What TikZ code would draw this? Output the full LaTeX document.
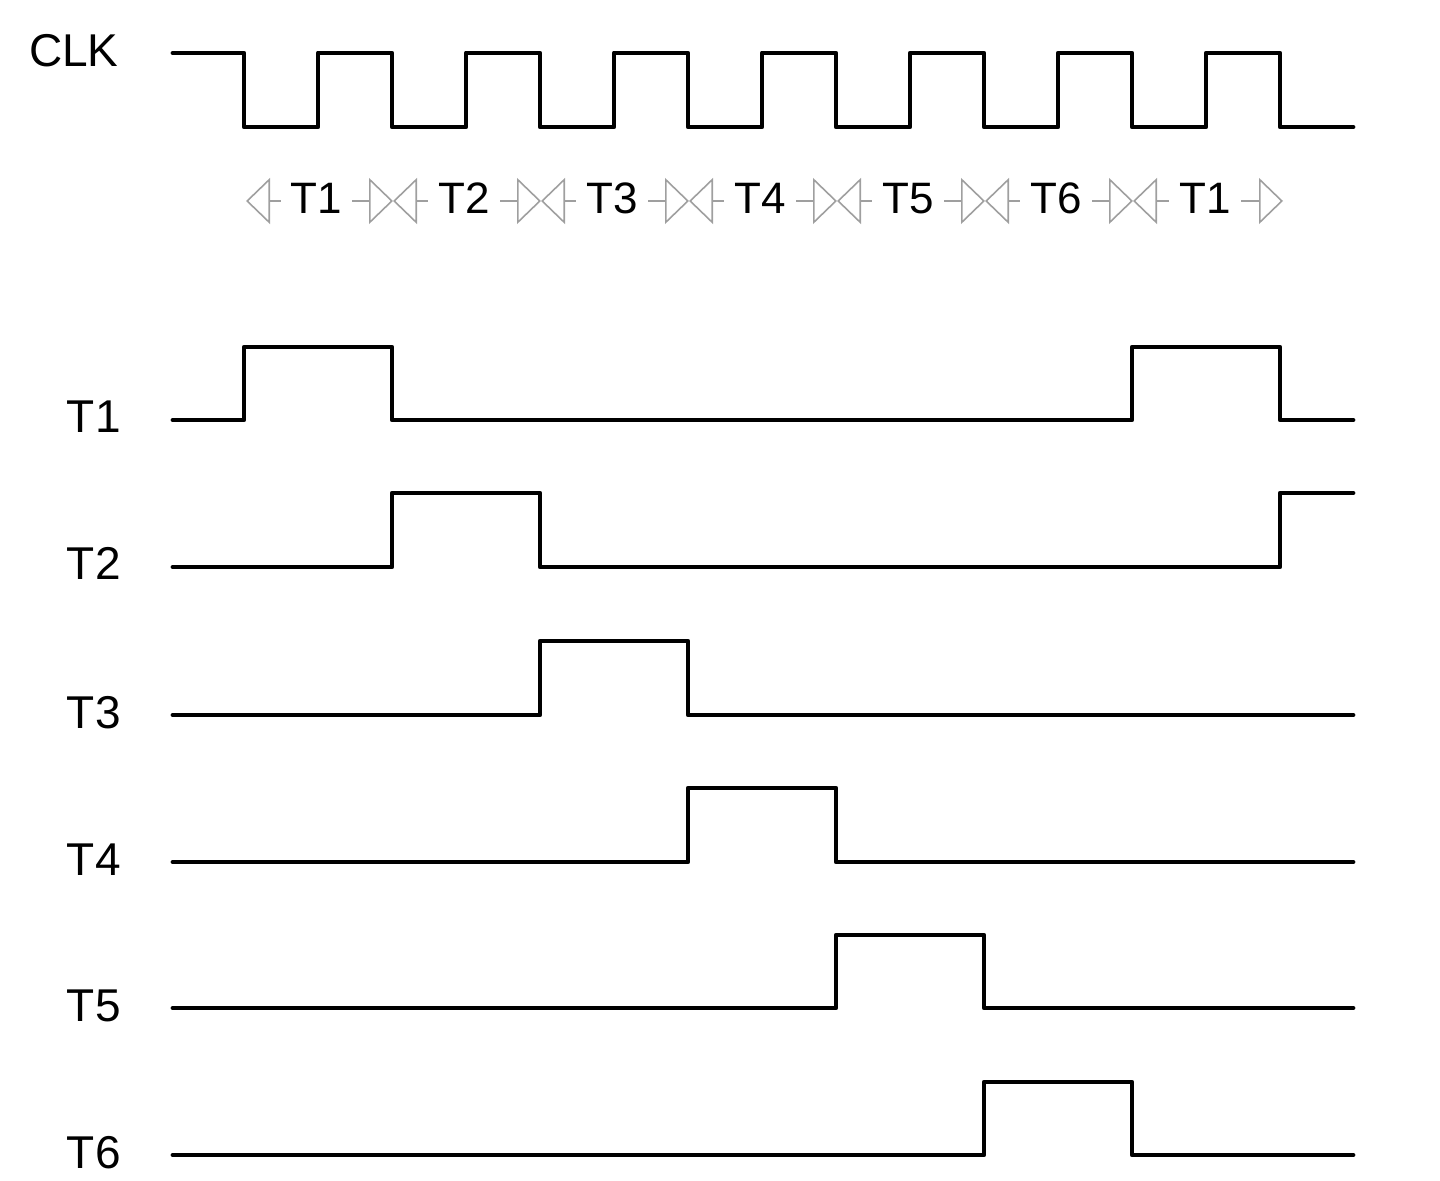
\documentclass[tikz,border=0pt]{standalone}
\usepackage{fontspec}
\setmainfont{Liberation Sans}
\usetikzlibrary{arrows.meta,calc}
\begin{document}
\begin{tikzpicture}[x=0.5pt,y=-0.5pt,
  sig/.style={line width=2.4pt,line join=round,line cap=round},
  lbl/.style={anchor=base east,inner sep=0pt,font=\fontsize{23}{26}\selectfont},
  per/.style={draw=gray!75,line width=0.8pt,
    {Triangle[open,length=12pt,width=23pt]}-{Triangle[open,length=12pt,width=23pt]}},
  plbl/.style={fill=white,inner xsep=5pt,inner ysep=2pt,text height=16pt,text depth=1pt,
    anchor=center,font=\fontsize{22}{26}\selectfont}]
\useasboundingbox (0,0) rectangle (1440,1181);
% labels
\node[lbl] (lclk) at (119,67) {CLK};
\node[lbl] (l1) at (121,433) {T1};
\node[lbl] (l2) at (121,580) {T2};
\node[lbl] (l3) at (121,728) {T3};
\node[lbl] (l4) at (121,875) {T4};
\node[lbl] (l5) at (121,1021) {T5};
\node[lbl] (l6) at (121,1168) {T6};
% clock
\draw[sig] (173,53) -| (244,127) -| (318,53) -| (392,127) -| (466,53) -| (540,127)
  -| (614,53) -| (688,127) -| (762,53) -| (836,127) -| (910,53) -| (984,127)
  -| (1058,53) -| (1132,127) -| (1206,53) -| (1280,127) -- (1353,127);
% period markers
\foreach \i/\x in {0/246,1/393,2/541,3/689,4/837,5/985,6/1133,7/1283}
  \coordinate (b\i) at (\x,201);
\foreach \i/\j/\t in {0/1/T1,1/2/T2,2/3/T3,3/4/T4,4/5/T5,5/6/T6,6/7/T1}{
  \draw[per] (b\i) -- (b\j);
  \node[plbl] (p\i) at ($(b\i)!0.5!(b\j)+(-3,-2)$) {\t};
}
% signals
\draw[sig] (173,420) -| (244,347) -| (392,420) -| (1132,347) -| (1280,420) -- (1353,420);
\draw[sig] (173,567) -| (392,493) -| (540,567) -| (1280,493) -- (1353,493);
\draw[sig] (173,715) -| (540,641) -| (688,715) -- (1353,715);
\draw[sig] (173,862) -| (688,788) -| (836,862) -- (1353,862);
\draw[sig] (173,1008) -| (836,935) -| (984,1008) -- (1353,1008);
\draw[sig] (173,1155) -| (984,1082) -| (1132,1155) -- (1353,1155);
\end{tikzpicture}
\end{document}
